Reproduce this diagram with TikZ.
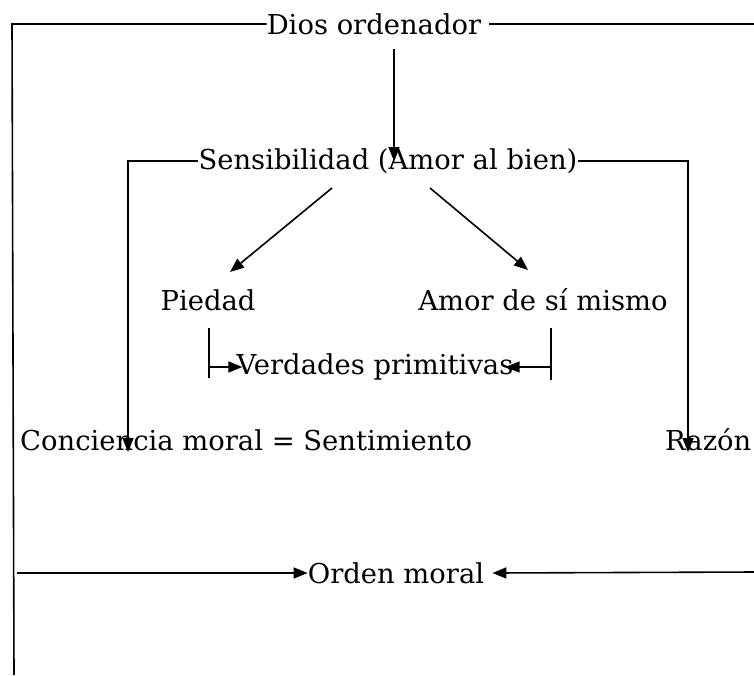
\documentclass[tikz,border=0pt]{standalone}
\usepackage{fontspec}
\setmainfont{DejaVu Serif}
\usetikzlibrary{arrows.meta,positioning}
\tikzset{word/.style={inner sep=0pt,font=\fontsize{27.4}{30}\selectfont},
link/.style={line width=1.6pt},
arr/.style={link,-{Triangle[length=14pt,width=11pt]}}}
\newcommand{\Flow}[3][arr]{\draw[#1] (#2) -- (#3);
}

\begin{document}
\begin{tikzpicture}[x=1pt,y=-1pt]
    \useasboundingbox (0,0) rectangle (754,675);
    % texts
    \node[word] (dios) at (374,24) {Dios ordenador};
    \node[word] (sens) at (388,161) {Sensibilidad (Amor al bien)};
    \node[word] (piedad) at (208,300) {Piedad};
    \node[word] (amor) at (543,300) {Amor de sí mismo};
    \node[word] (verd) at (375,367) {Verdades primitivas};
    \node[word,anchor=west] (conc) at (20,440) {Conciencia moral = Sentimiento};
    \node[word,anchor=west] (razon) at (665,440) {Razón};
    \node[word] (orden) at (396,573) {Orden moral};
    % free ends
    \coordinate (tl) at (12,24);
    \coordinate (bl) at (14,675);
    \coordinate (tr) at (754,24);
    \coordinate (dstart) at (394,49);
    \coordinate (cl) at (128,452);
    \coordinate (cr) at (688,452);
    \coordinate (s1) at (332,188);
    \coordinate (p1) at (230,272);
    \coordinate (s2) at (430,188);
    \coordinate (a2) at (528,270);
    \coordinate (vlt) at (209,328);
    \coordinate (vlb) at (209,378);
    \coordinate (vrt) at (551,328);
    \coordinate (vrb) at (551,380);
    \coordinate (ol) at (17,573);
    \coordinate (or) at (754,572);
    % frame
    \draw[link] (bl) -- (tl) -- (dios.west);
    \draw[link] ([xshift=8pt]dios.east) -- (tr);
    % links
    \Flow{dstart}{dstart |- sens.center}
    \draw[arr] (sens.west) -| (cl);
    \draw[arr] (sens.east) -| (cr);
    \Flow{s1}{p1}
    \Flow{s2}{a2}
    \Flow[link]{vlt}{vlb}
    \Flow[link]{vrt}{vrb}
    \Flow{vlt |- verd.center}{[xshift=6pt]verd.west}
    \Flow{vrt |- verd.center}{[xshift=-8pt]verd.east}
    \Flow{ol}{orden.west}
    \Flow{or}{[xshift=8pt]orden.east}
\end{tikzpicture}
\end{document}
